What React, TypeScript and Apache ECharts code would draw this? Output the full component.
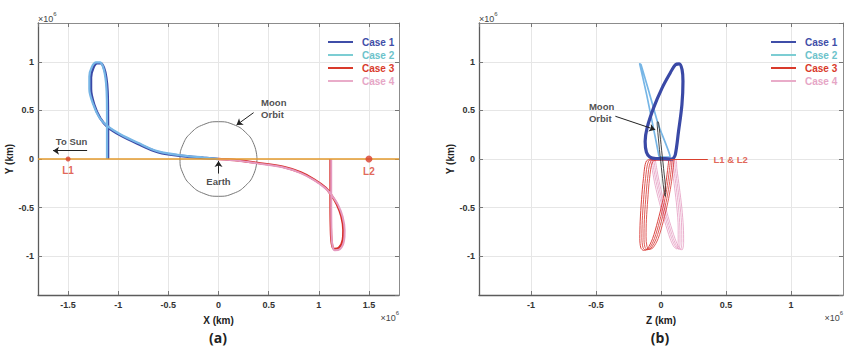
import React, { useEffect, useRef } from "react";
import * as echarts from "echarts";

const FONT = "'Liberation Sans Narrow', 'Liberation Sans', Arial, sans-serif";

// ---------- Panel (a): X-Y plane (units of 1e6 km) ----------
const A_X_RANGE = [-1.8, 1.8];
const Y_RANGE = [-1.4, 1.4];
const B_X_RANGE = [-1.4, 1.4];

const A_CASE1 = [
  [0, 0], [-0.15, 0.012], [-0.35, 0.03], [-0.6, 0.07], [-0.81, 0.16], [-0.98, 0.245],
  [-1.105, 0.33], [-1.18, 0.42], [-1.24, 0.56], [-1.272, 0.72], [-1.272, 0.84],
  [-1.248, 0.94], [-1.21, 0.985], [-1.175, 0.985], [-1.143, 0.94], [-1.12, 0.84],
  [-1.107, 0.7], [-1.103, 0.5], [-1.102, 0.25], [-1.102, 0],
];
const A_CASE2 = [
  [0, 0], [-0.15, 0.015], [-0.35, 0.035], [-0.6, 0.078], [-0.81, 0.17], [-0.98, 0.255],
  [-1.11, 0.34], [-1.19, 0.43], [-1.252, 0.57], [-1.288, 0.72], [-1.288, 0.85],
  [-1.262, 0.95], [-1.22, 0.995], [-1.182, 0.995], [-1.152, 0.95], [-1.128, 0.84],
  [-1.116, 0.7], [-1.112, 0.5], [-1.112, 0.25], [-1.112, 0],
];
const A_CASE3 = [
  [0, 0], [0.2, -0.015], [0.387, -0.04], [0.65, -0.082], [0.82, -0.138], [0.953, -0.21],
  [1.07, -0.297], [1.12, -0.365], [1.18, -0.465], [1.225, -0.59], [1.245, -0.73],
  [1.24, -0.83], [1.2, -0.915], [1.155, -0.925], [1.13, -0.87], [1.12, -0.7],
  [1.117, -0.4], [1.117, 0],
];
const A_CASE4 = [
  [0, 0], [0.2, -0.018], [0.387, -0.045], [0.65, -0.088], [0.82, -0.145], [0.953, -0.218],
  [1.07, -0.305], [1.128, -0.372], [1.192, -0.472], [1.238, -0.595], [1.258, -0.735],
  [1.252, -0.84], [1.21, -0.93], [1.16, -0.94], [1.135, -0.88], [1.126, -0.7],
  [1.124, -0.4], [1.124, 0],
];
const A_MOON_ORBIT = [
  [0.384, 0], [0.355, 0.147], [0.272, 0.272], [0.147, 0.355], [0, 0.384],
  [-0.147, 0.355], [-0.272, 0.272], [-0.355, 0.147], [-0.384, 0], [-0.355, -0.147],
  [-0.272, -0.272], [-0.147, -0.355], [0, -0.384], [0.147, -0.355], [0.272, -0.272],
  [0.355, -0.147], [0.384, 0],
];
const A_SUN_LINE = [[-1.8, 0], [1.8, 0]];
const A_LPOINTS = [[-1.5, 0], [1.5, 0]];
const A_LLABELS = ["L1", "L2"];
const A_NOTE_TEXT = ["To Sun", "Moon\nOrbit", "Earth"];
const A_NOTE_POS = [[-1.465, 0.178], [0.42, 0.52], [0, -0.235]];
const A_ARROWS = [
  [[-1.31, 0.086], [-1.65, 0.086]],
  [[0.35, 0.477], [0.18, 0.35]],
  [[0, -0.15], [0, -0.02]],
];

// ---------- Panel (b): Z-Y plane (units of 1e6 km) ----------
const B_CASE1 = [
  [0.092, 0], [0.11, 0.044], [0.135, 0.285], [0.161, 0.56], [0.169, 0.8], [0.162, 0.92],
  [0.14, 0.98], [0.11, 0.97], [0.071, 0.886], [0.008, 0.73], [-0.057, 0.526],
  [-0.107, 0.32], [-0.122, 0.18], [-0.112, 0.07], [-0.085, 0.02], [-0.04, 0.005],
  [0.03, 0.003], [0.092, 0],
];
const B_CASE2 = [
  [-0.015, 0.025], [-0.06, 0.33], [-0.11, 0.66], [-0.164, 0.98], [-0.155, 0.975],
  [-0.09, 0.68], [-0.02, 0.35], [0.07, 0.025], [0.03, 0.02], [-0.015, 0.025],
];
// Case 3: a band of several revolutions, tip lower-left
const B_CASE3_A = [
  [0.06, -0.005], [0.05, -0.12], [0.035, -0.27], [0.01, -0.45], [-0.025, -0.64],
  [-0.065, -0.82], [-0.105, -0.925], [-0.135, -0.94], [-0.155, -0.915], [-0.163, -0.82],
  [-0.16, -0.64], [-0.15, -0.42], [-0.135, -0.2], [-0.112, -0.02], [-0.06, -0.005], [0.06, -0.005],
];
const B_CASE3_B = [
  [0.073, -0.007], [0.064, -0.12], [0.049, -0.27], [0.024, -0.45], [-0.011, -0.64],
  [-0.051, -0.82], [-0.091, -0.922], [-0.12, -0.937], [-0.139, -0.91], [-0.147, -0.81],
  [-0.144, -0.63], [-0.134, -0.42], [-0.119, -0.2], [-0.096, -0.023], [-0.05, -0.007], [0.073, -0.007],
];
const B_CASE3_C = [
  [0.087, -0.008], [0.078, -0.12], [0.063, -0.27], [0.038, -0.45], [0.003, -0.64],
  [-0.037, -0.82], [-0.077, -0.918], [-0.105, -0.933], [-0.124, -0.905], [-0.131, -0.805],
  [-0.128, -0.625], [-0.118, -0.42], [-0.103, -0.2], [-0.08, -0.026], [-0.035, -0.008], [0.087, -0.008],
];
const B_CASE3_D = [
  [0.1, -0.01], [0.092, -0.12], [0.077, -0.27], [0.052, -0.45], [0.018, -0.64],
  [-0.022, -0.82], [-0.062, -0.915], [-0.09, -0.93], [-0.108, -0.9], [-0.115, -0.8],
  [-0.112, -0.62], [-0.102, -0.42], [-0.088, -0.2], [-0.065, -0.03], [-0.02, -0.01], [0.1, -0.01],
];
// Case 4: a band of several revolutions, tip lower-right
const B_CASE4_A = [
  [-0.044, -0.005], [-0.03, -0.12], [-0.008, -0.27], [0.025, -0.45], [0.065, -0.64],
  [0.108, -0.82], [0.14, -0.915], [0.162, -0.935], [0.174, -0.86], [0.172, -0.7],
  [0.16, -0.5], [0.142, -0.3], [0.122, -0.1], [0.112, -0.005], [-0.044, -0.005],
];
const B_CASE4_B = [
  [-0.056, -0.007], [-0.042, -0.12], [-0.02, -0.27], [0.013, -0.45], [0.053, -0.64],
  [0.095, -0.82], [0.127, -0.912], [0.149, -0.932], [0.16, -0.86], [0.159, -0.7],
  [0.148, -0.5], [0.13, -0.3], [0.11, -0.1], [0.1, -0.007], [-0.056, -0.007],
];
const B_CASE4_C = [
  [-0.068, -0.008], [-0.054, -0.12], [-0.032, -0.27], [0.001, -0.45], [0.041, -0.64],
  [0.083, -0.82], [0.114, -0.908], [0.136, -0.928], [0.146, -0.86], [0.145, -0.7],
  [0.135, -0.5], [0.118, -0.3], [0.098, -0.1], [0.088, -0.008], [-0.068, -0.008],
];
const B_CASE4_D = [
  [-0.08, -0.01], [-0.066, -0.12], [-0.045, -0.27], [-0.012, -0.45], [0.028, -0.64],
  [0.07, -0.82], [0.1, -0.905], [0.122, -0.925], [0.132, -0.86], [0.132, -0.7],
  [0.122, -0.5], [0.105, -0.3], [0.085, -0.1], [0.075, -0.01], [-0.08, -0.01],
];
const B_MOON_ORBIT = [
  [-0.03, 0.37], [-0.025, 0.385], [-0.018, 0.37], [0.0, 0.15], [0.02, -0.1],
  [0.035, -0.33], [0.033, -0.385], [0.027, -0.37], [0.008, -0.15], [-0.012, 0.1],
  [-0.028, 0.33], [-0.03, 0.37],
];
const B_NOTE_TEXT = ["Moon\nOrbit", "L1 & L2"];
const B_NOTE_POS = [[-0.558, 0.48], [0.4, 0]];
const B_ARROWS = [[[-0.351, 0.44], [-0.044, 0.302]]];
const B_L_LINE = [[[0.071, 0], [0.36, 0]]];

const LEGEND_NAMES = ["Case 1", "Case 2", "Case 3", "Case 4"];
const LEGEND_LINE = ["#3f4ea8", "#7ccdd3", "#d93a2b", "#e9acc9"];
const LEGEND_TEXT = ["#3f4ea8", "#6cc3cb", "#d93a2b", "#e6a6c6"];

const C1 = "#3a49a6";
const C2 = "#77b6e6";
const C3 = "#d7302c";
const C4 = "#e59ac0";
const ORANGE = "#e39a2d";
const LRED = "#d9402e";

const fmt = (v: number) =>
  Math.abs(v * 2 - Math.round(v * 2)) < 1e-6 ? String(Math.round(v * 10) / 10) : "";

function xAx(grid: number, range: number[], main: boolean, name: string) {
  return {
    type: "value", gridIndex: grid, min: range[0], max: range[1],
    position: main ? "bottom" : "top",
    splitNumber: 7, minInterval: 0.5, maxInterval: 0.5,
    axisLine: { show: true, onZero: false, lineStyle: { color: main ? "#5c5c5c" : "#8c8c8c", width: main ? 1.3 : 1 } },
    axisTick: { show: true, inside: true, length: 4, lineStyle: { color: "#777" } },
    axisLabel: {
      show: main, showMinLabel: false, showMaxLabel: false, formatter: fmt,
      fontSize: 9, fontWeight: "bold", color: "#333", fontFamily: FONT, margin: 5,
    },
    splitLine: { show: main, lineStyle: { color: "#e6e6e6", width: 1 } },
    name: main ? name : "", nameLocation: "middle", nameGap: 20,
    nameTextStyle: { fontSize: 10, fontWeight: "bold", color: "#222", fontFamily: FONT },
  };
}
function yAx(grid: number, main: boolean, name: string) {
  return {
    type: "value", gridIndex: grid, min: Y_RANGE[0], max: Y_RANGE[1],
    position: main ? "left" : "right",
    splitNumber: 6, minInterval: 0.5, maxInterval: 0.5,
    axisLine: { show: true, onZero: false, lineStyle: { color: main ? "#5c5c5c" : "#8c8c8c", width: main ? 1.3 : 1 } },
    axisTick: { show: true, inside: true, length: 4, lineStyle: { color: "#777" } },
    axisLabel: {
      show: main, showMinLabel: false, showMaxLabel: false, formatter: fmt,
      fontSize: 9, fontWeight: "bold", color: "#333", fontFamily: FONT, margin: 4,
    },
    splitLine: { show: main, lineStyle: { color: "#e6e6e6", width: 1 } },
    name: main ? name : "", nameLocation: "middle", nameGap: 23, nameRotate: 90,
    nameTextStyle: { fontSize: 10, fontWeight: "bold", color: "#222", fontFamily: FONT },
  };
}

function line(name: string, data: number[][], color: string, width: number, gi: number, z = 2, smooth: any = 0.35) {
  return {
    type: "line", name, data, xAxisIndex: gi, yAxisIndex: gi, showSymbol: false, symbol: "none",
    smooth, lineStyle: { color, width }, itemStyle: { color }, z, silent: true,
  };
}

function notes(texts: string[], pos: number[][], gi: number, leftAligned: boolean[], colors: string[]) {
  return {
    type: "scatter", name: "notes" + gi, xAxisIndex: gi, yAxisIndex: gi, symbolSize: 1, z: 6, silent: true,
    itemStyle: { color: "rgba(0,0,0,0)" },
    data: pos.map((p, i) => ({
      value: p,
      label: {
        show: true, formatter: texts[i], position: leftAligned[i] ? "right" : "inside", distance: 0,
        align: leftAligned[i] ? "left" : "center",
        fontSize: 9.5, fontWeight: "bold", lineHeight: 12, fontFamily: FONT, color: colors[i],
      },
    })),
  };
}

function arrows(segs: number[][][], gi: number, color: string, arrow: boolean) {
  return {
    type: "lines", coordinateSystem: "cartesian2d", xAxisIndex: gi, yAxisIndex: gi, z: 5, silent: true,
    symbol: arrow ? ["none", "arrow"] : ["none", "none"], symbolSize: 6,
    lineStyle: { color, width: 1, opacity: 1, curveness: 0 },
    data: segs.map((c) => ({ coords: c })),
  };
}

export default function App() {
  const ref = useRef<HTMLDivElement>(null);
  useEffect(() => {
    document.body.style.margin = "0";
    const chart = echarts.init(ref.current!, null, { renderer: "svg" });
    const sup = (x: number, y: number, align: string) => ({
      type: "text", x, y,
      style: {
        text: "{a|×10}{b|6}", align, verticalAlign: "middle",
        rich: {
          a: { fontSize: 9, fontFamily: FONT, fill: "#444", lineHeight: 12, verticalAlign: "bottom" },
          b: { fontSize: 6, fontFamily: FONT, fill: "#444", lineHeight: 12, verticalAlign: "top" },
        },
      },
    });
    const option: any = {
      animation: false,
      backgroundColor: "#ffffff",
      grid: [
        { left: 38, top: 23, width: 361, height: 272 },
        { left: 479, top: 23, width: 364, height: 272 },
      ],
      xAxis: [
        xAx(0, A_X_RANGE, true, "X (km)"),
        xAx(1, B_X_RANGE, true, "Z (km)"),
        xAx(0, A_X_RANGE, false, ""),
        xAx(1, B_X_RANGE, false, ""),
      ],
      yAxis: [yAx(0, true, "Y (km)"), yAx(1, true, "Y (km)"), yAx(0, false, ""), yAx(1, false, "")],
      legend: [323, 766].map((left) => ({
        left, top: 31, orient: "vertical", itemWidth: 25, itemHeight: 2, itemGap: 1, icon: "rect",
        selectedMode: false,
        textStyle: { fontFamily: FONT, fontSize: 10, fontWeight: "bold", lineHeight: 12, padding: [0, 0, 0, 4] },
        data: LEGEND_NAMES.map((n, k) => ({
          name: n, itemStyle: { color: LEGEND_LINE[k] }, textStyle: { color: LEGEND_TEXT[k] },
        })),
      })),
      graphic: [
        sup(38, 17, "left"),
        sup(399, 316, "right"),
        sup(479, 17, "left"),
        sup(843, 316, "right"),
        { type: "text", x: 218, y: 337, style: { text: "(a)", align: "center", verticalAlign: "middle", font: "bold 14px 'Open Sans', sans-serif", fill: "#222" } },
        { type: "text", x: 660, y: 337, style: { text: "(b)", align: "center", verticalAlign: "middle", font: "bold 14px 'Open Sans', sans-serif", fill: "#222" } },
      ],
      series: [
        // panel (a)
        line("moonA", A_MOON_ORBIT, "#777", 1, 0, 1, 0.5),
        line("Case 1", A_CASE1, C1, 2.6, 0, 2),
        line("Case 2", A_CASE2, C2, 2.2, 0, 2),
        line("Case 3", A_CASE3, C3, 2.4, 0, 2),
        line("Case 4", A_CASE4, C4, 2, 0, 2),
        line("sunline", A_SUN_LINE, ORANGE, 1.5, 0, 3, false),
        {
          type: "scatter", name: "Lpts", xAxisIndex: 0, yAxisIndex: 0, z: 4, silent: true,
          data: A_LPOINTS.map((p, i) => ({
            value: p, symbolSize: i === 0 ? 5 : 7,
            label: { show: true, formatter: A_LLABELS[i], position: "bottom", distance: 4, color: LRED, fontSize: 10, fontWeight: "bold", fontFamily: FONT },
          })),
          itemStyle: { color: LRED },
        },
        notes(A_NOTE_TEXT, A_NOTE_POS, 0, [false, true, false], ["#222", "#222", "#222"]),
        arrows(A_ARROWS, 0, "#222", true),
        // panel (b)
        line("Case 2", B_CASE2, C2, 1.7, 1, 2, 0.15),
        line("Case 1", B_CASE1, C1, 3.2, 1, 3, 0.35),
        line("Case 4", B_CASE4_A, C4, 0.8, 1, 2, 0.3),
        line("Case 4", B_CASE4_B, C4, 0.8, 1, 2, 0.3),
        line("Case 4", B_CASE4_C, C4, 0.8, 1, 2, 0.3),
        line("Case 4", B_CASE4_D, C4, 0.8, 1, 2, 0.3),
        line("Case 3", B_CASE3_A, C3, 0.9, 1, 2, 0.3),
        line("Case 3", B_CASE3_B, C3, 0.8, 1, 2, 0.3),
        line("Case 3", B_CASE3_C, C3, 0.8, 1, 2, 0.3),
        line("Case 3", B_CASE3_D, C3, 0.8, 1, 2, 0.3),
        line("moonB", B_MOON_ORBIT, "#333", 0.9, 1, 4, 0.3),
        arrows(B_L_LINE, 1, LRED, false),
        arrows(B_ARROWS, 1, "#222", true),
        notes(B_NOTE_TEXT, B_NOTE_POS, 1, [true, true], ["#222", LRED]),
      ],
    };
    chart.setOption(option);
    return () => chart.dispose();
  }, []);
  return <div ref={ref} style={{ width: 862, height: 357 }} />;
}
